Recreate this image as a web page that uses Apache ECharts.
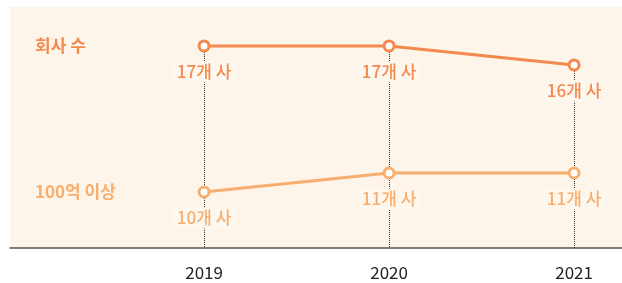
<!DOCTYPE html>
<html><head><meta charset="utf-8">
<script src="https://cdn.jsdelivr.net/npm/echarts@6/dist/echarts.min.js"></script>
<style>html,body{margin:0;padding:0;background:#fff}#c{width:622px;height:283px}</style>
</head><body><div id="c"></div>
<script>
const years = [2019, 2020, 2021];
const companies = [17, 17, 16];
const over100 = [10, 11, 11];
const seriesNames = ['회사 수', '100억 이상'];
const unit = '개 사';

const font = '"Noto Sans CJK KR", "Noto Sans", sans-serif';
const c1 = '#F4894E', c2 = '#F8AE6E';
const y0min = 6.37, y0max = 19.05, y1min = 7.053, y1max = 19.737;

const chart = echarts.init(document.getElementById('c'));
function lbl(color) {
  return {show: true, position: 'bottom', distance: 9, color: color, fontSize: 17, fontWeight: 500, fontFamily: font,
    formatter: p => p.value[1] + unit, backgroundColor: '#FEF7EE', padding: [2, 4]};
}
chart.setOption({
  animation: false,
  grid: {left: 10, right: 0, top: 7, bottom: 35, show: true, backgroundColor: '#FEF5EA', borderWidth: 0},
  xAxis: {type: 'value', min: 2017.951, max: 2021.259,
    axisLine: {show: true, lineStyle: {color: '#555', width: 1.5}},
    axisTick: {show: false}, splitLine: {show: false},
    axisLabel: {customValues: years, formatter: v => String(v), margin: 16, fontSize: 17, color: '#222', fontFamily: font}},
  yAxis: [
    {type: 'value', min: y0min, max: y0max, axisLine: {show: false}, axisTick: {show: false}, splitLine: {show: false},
      axisLabel: {inside: true, margin: 25, customValues: [companies[0]], formatter: () => seriesNames[0],
        color: c1, fontSize: 17, fontWeight: 'bold', fontFamily: font}},
    {type: 'value', min: y1min, max: y1max, position: 'left', axisLine: {show: false}, axisTick: {show: false}, splitLine: {show: false},
      axisLabel: {inside: true, margin: 25, customValues: [over100[0]], formatter: () => seriesNames[1],
        color: c2, fontSize: 17, fontWeight: 'bold', fontFamily: font}}
  ],
  series: [
    {type: 'line', z: 1, silent: true, data: [], symbol: 'none',
      markLine: {silent: true, z: 1, symbol: 'none', label: {show: false},
        lineStyle: {type: 'dotted', color: '#333', width: 1},
        data: years.map((y, i) => [{coord: [y, companies[i]]}, {coord: [y, y0min]}])}},
    {name: seriesNames[0], type: 'line', z: 3, yAxisIndex: 0, data: years.map((y, i) => [y, companies[i]]),
      symbol: 'circle', symbolSize: 10, lineStyle: {color: c1, width: 3},
      itemStyle: {color: '#fff', borderColor: c1, borderWidth: 3}, label: lbl(c1)},
    {name: seriesNames[1], type: 'line', z: 3, yAxisIndex: 1, data: years.map((y, i) => [y, over100[i]]),
      symbol: 'circle', symbolSize: 10, lineStyle: {color: c2, width: 3},
      itemStyle: {color: '#fff', borderColor: c2, borderWidth: 3}, label: lbl(c2)}
  ]
});
</script></body></html>
